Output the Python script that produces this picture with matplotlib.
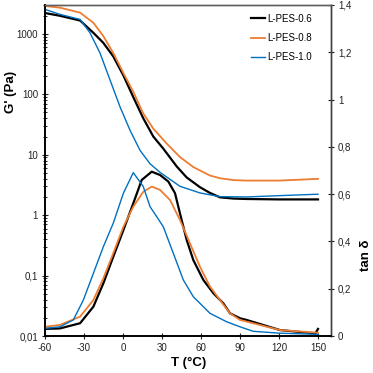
import matplotlib
matplotlib.use("Agg")
import matplotlib.pyplot as plt
from matplotlib.ticker import FixedLocator, LogLocator, NullFormatter

plt.rcParams['font.family'] = ['Liberation Sans', 'DejaVu Sans']

labels = ["L-PES-0.6", "L-PES-0.8", "L-PES-1.0"]
colors = ["#000000", "#ED7D31", "#0070C0"]

# storage modulus G' (Pa)
t_g06 = [-60, -48.5, -33, -22.8, -15.1, -7.5, 0.3, 7.9, 15.6, 23.3, 31, 34.9, 41.3, 49, 59.2, 66.9, 74.6, 85, 95, 120, 150]
g06 = [2210, 1990, 1660, 1040, 708, 424, 205, 90, 40, 20, 12.6, 9.75, 6.4, 4.2, 2.9, 2.33, 1.97, 1.88, 1.85, 1.82, 1.82]

t_g08 = [-60, -48.5, -33, -22.8, -15.1, -7.5, 0.3, 7.9, 15.6, 23.3, 33.6, 43.8, 54.1, 66.9, 74.6, 85, 95, 120, 150]
g08 = [2890, 2710, 2240, 1525, 915, 482, 224, 110, 48, 27, 15.3, 9.15, 6.24, 4.52, 4.08, 3.8, 3.73, 3.73, 3.98]

t_g10 = [-60, -48.5, -33, -25.4, -17.7, -10, -2.3, 5.4, 13.1, 20.8, 28.5, 43.8, 59.2, 74.6, 95, 120, 150]
g10 = [2540, 2100, 1730, 1040, 482, 173, 62, 25.4, 11.8, 7.08, 5.1, 3.0, 2.33, 2.02, 2.0, 2.1, 2.22]

# loss factor tan delta
t_d06 = [-60, -48.5, -33, -22.8, -15.1, -7.5, 0.3, 7.9, 14.4, 22.1, 28.5, 34.9, 40, 43.8, 49, 54.1, 61.8, 69.5, 77.2, 82.3, 90, 95, 120.8, 148, 150]
d06 = [0.03, 0.032, 0.054, 0.124, 0.223, 0.335, 0.448, 0.561, 0.66, 0.695, 0.681, 0.653, 0.604, 0.519, 0.406, 0.321, 0.237, 0.181, 0.138, 0.096, 0.075, 0.068, 0.025, 0.011, 0.03]

t_d08 = [-60, -48.5, -33, -22.8, -15.1, -7.5, 0.3, 7.9, 15.6, 22.1, 28.5, 36.2, 43.8, 51.5, 59.2, 66.9, 74.6, 82.3, 90, 95, 120.8, 150]
d08 = [0.039, 0.047, 0.082, 0.152, 0.244, 0.35, 0.462, 0.547, 0.61, 0.632, 0.618, 0.575, 0.491, 0.392, 0.293, 0.209, 0.152, 0.096, 0.068, 0.061, 0.025, 0.014]

t_d10 = [-60, -48.5, -38.2, -30.5, -22.8, -15.1, -7.5, 0.3, 7.9, 15.6, 20.8, 25.9, 31, 38.7, 46.4, 54.1, 66.9, 79.8, 90, 100, 120, 150]
d10 = [0.032, 0.039, 0.068, 0.152, 0.265, 0.378, 0.477, 0.604, 0.691, 0.632, 0.547, 0.505, 0.462, 0.35, 0.237, 0.166, 0.096, 0.06, 0.039, 0.02, 0.012, 0.007]

x_ticks = [-60, -30, 0, 30, 60, 90, 120, 150]
g_ticks = [0.01, 0.1, 1, 10, 100, 1000]
g_ticklabels = ["0,01", "0,1", "1", "10", "100", "1000"]
d_ticks = [0, 0.2, 0.4, 0.6, 0.8, 1.0, 1.2, 1.4]
d_ticklabels = ["0", "0,2", "0,4", "0,6", "0,8", "1", "1,2", "1,4"]

fig = plt.figure(figsize=(3.73, 3.73), dpi=100)
ax = fig.add_axes([45/373, 37/373, 286/373, 331/373])
ax2 = ax.twinx()

widths = [1.6, 1.3, 1.0]
g_lines = []
for t, g, c, w, lab in zip([t_g06, t_g08, t_g10], [g06, g08, g10], colors, widths, labels):
    ln, = ax.plot(t, g, color=c, lw=w, label=lab)
    g_lines.append(ln)
for t, d, c, w in zip([t_d06, t_d08, t_d10], [d06, d08, d10], colors, widths):
    ax2.plot(t, d, color=c, lw=w)

ax.set_yscale('log')
ax.set_ylim(0.01, 3000)
ax.set_xlim(-60, 160)
ax2.set_ylim(0, 1.4)

ax.set_xticks(x_ticks)
ax.set_xticklabels([str(v) for v in x_ticks])
ax.yaxis.set_major_locator(FixedLocator(g_ticks))
ax.set_yticklabels(g_ticklabels)
ax.yaxis.set_minor_locator(LogLocator(base=10, subs=range(2, 10)))
ax.yaxis.set_minor_formatter(NullFormatter())
ax2.set_yticks(d_ticks)
ax2.set_yticklabels(d_ticklabels)

ax.tick_params(axis='both', which='major', direction='inout', length=5, width=0.8, labelsize=7, pad=2.5, colors='#222222')
ax.tick_params(axis='y', which='minor', direction='inout', length=3, width=0.6)
ax.tick_params(axis='x', which='minor', bottom=False)
ax2.tick_params(axis='y', direction='inout', length=5, width=0.8, labelsize=7, pad=2.5, colors='#222222')

for a in (ax, ax2):
    a.spines['left'].set_linewidth(1.2)
    a.spines['bottom'].set_linewidth(1.2)
    a.spines['right'].set_linewidth(1.0)
    a.spines['right'].set_color('#404040')
    a.spines['top'].set_color('#606060')
    a.spines['top'].set_linewidth(1.0)

ax.set_ylabel("G' (Pa)", fontsize=9.5, fontweight='bold')
ax.yaxis.set_label_coords(-0.098, 0.737)
ax.set_xlabel("T (°C)", fontsize=9.5, fontweight='bold')
ax.xaxis.set_label_coords(0.503, -0.064)
ax2.set_ylabel("tan δ", fontsize=9.5, fontweight='bold')
ax2.yaxis.set_label_coords(1.103, 0.245)

ax2.legend(handles=g_lines, loc='upper left', bbox_to_anchor=(0.705, 0.985),
           frameon=False, fontsize=7, handlelength=1.5, handletextpad=0.2,
           labelspacing=0.95, borderaxespad=0)

fig.savefig("out.png", dpi=100)
